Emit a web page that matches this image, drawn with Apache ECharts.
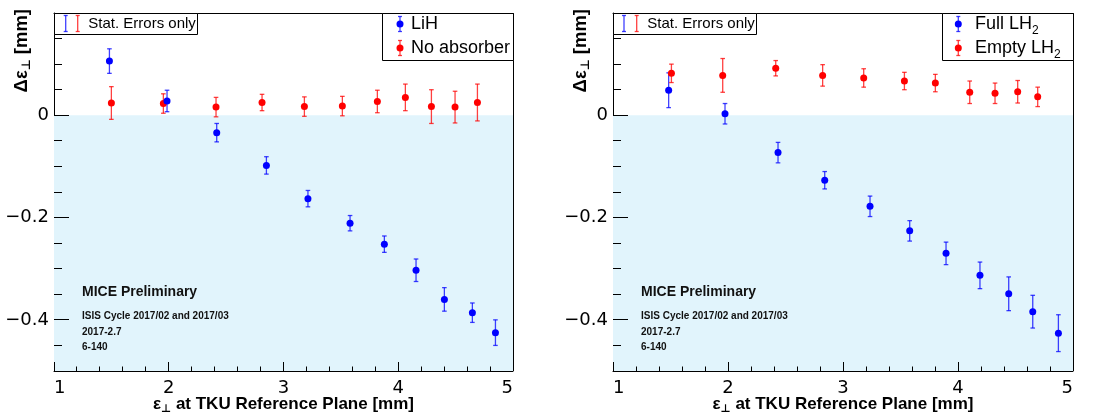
<!DOCTYPE html>
<html><head><meta charset="utf-8">
<script src="https://cdn.jsdelivr.net/npm/echarts@6/dist/echarts.min.js"></script>
<style>html,body{margin:0;padding:0;background:#fff}#c{width:1119px;height:418px}</style>
</head><body><div id="c"></div>
<script>
// ---- axis ticks ----
const xMin = 1, xMax = 5;
const yMin = -0.5, yMax = 0.2;
const xMajorTicks = [1, 2, 3, 4, 5];
const xMinorTicks = [1.2, 1.4, 1.6, 1.8, 2.2, 2.4, 2.6, 2.8, 3.2, 3.4, 3.6, 3.8, 4.2, 4.4, 4.6, 4.8];
const yLabelTicks = [0, -0.2, -0.4];
const yMinorTicks = [0.15, 0.1, 0.05, -0.05, -0.1, -0.15, -0.25, -0.3, -0.35, -0.45];
const shadeRange = [-0.5, 0];

// ---- left panel: LiH vs No absorber ----
const lihX   = [1.483, 1.985, 2.418, 2.851, 3.213, 3.580, 3.879, 4.155, 4.402, 4.646, 4.847];
const lihY   = [0.106, 0.028, -0.034, -0.098, -0.163, -0.211, -0.252, -0.303, -0.360, -0.386, -0.425];
const lihErr = [0.024, 0.021, 0.018, 0.017, 0.016, 0.015, 0.016, 0.022, 0.023, 0.019, 0.025];

const noAbsX   = [1.500, 1.953, 2.412, 2.813, 3.182, 3.513, 3.818, 4.062, 4.289, 4.495, 4.690];
const noAbsY   = [0.024, 0.023, 0.016, 0.025, 0.017, 0.018, 0.027, 0.035, 0.017, 0.016, 0.025];
const noAbsErr = [0.032, 0.019, 0.019, 0.016, 0.019, 0.019, 0.022, 0.026, 0.033, 0.031, 0.036];

// ---- right panel: Full LH2 vs Empty LH2 ----
const fullX   = [1.484, 1.974, 2.435, 2.841, 3.235, 3.580, 3.896, 4.191, 4.441, 4.650, 4.873];
const fullY   = [0.049, 0.003, -0.073, -0.127, -0.178, -0.226, -0.270, -0.313, -0.349, -0.384, -0.426];
const fullErr = [0.034, 0.020, 0.020, 0.017, 0.020, 0.020, 0.022, 0.026, 0.033, 0.032, 0.036];

const emptyX   = [1.508, 1.954, 2.415, 2.823, 3.180, 3.534, 3.803, 4.102, 4.322, 4.519, 4.693];
const emptyY   = [0.082, 0.078, 0.092, 0.078, 0.073, 0.067, 0.063, 0.045, 0.043, 0.046, 0.036];
const emptyErr = [0.018, 0.033, 0.015, 0.021, 0.018, 0.017, 0.017, 0.022, 0.020, 0.022, 0.019];

// ---- texts ----
const leftLegend  = ['LiH', 'No absorber'];
const rightLegend = ['Full LH{s|2}', 'Empty LH{s|2}'];
const statText = 'Stat. Errors only';
const miceTexts = ['MICE Preliminary', 'ISIS Cycle 2017/02 and 2017/03', '2017-2.7', '6-140'];
const yTitle = '{a|Δε}{s|⊥}{a| [mm]}';
const xTitle = '{a|ε}{s|⊥}{a| at TKU Reference Plane [mm]}';

const BLUE = '#0000ff', RED = '#ff0000';
const BLUE_E = 'rgba(0,0,255,0.75)', RED_E = 'rgba(255,0,0,0.75)';
const SHADE = '#e1f4fc';

const chart = echarts.init(document.getElementById('c'));

function zip(xs, ys, es) { return xs.map((x, i) => es ? [x, ys[i], es[i]] : [x, ys[i]]); }

function errSeries(xi, yi, xs, ys, es, col) {
  return {
    type: 'custom', xAxisIndex: xi, yAxisIndex: yi, z: 3,
    data: zip(xs, ys, es),
    renderItem: function (params, api) {
      const x = api.value(0), y = api.value(1), e = api.value(2);
      const t = api.coord([x, y + e]), b = api.coord([x, y - e]);
      const cw = 2.3;
      const st = {stroke: col, lineWidth: 1.3};
      return {type: 'group', children: [
        {type: 'line', shape: {x1: t[0], y1: t[1], x2: b[0], y2: b[1]}, style: st},
        {type: 'line', shape: {x1: t[0] - cw, y1: t[1], x2: t[0] + cw, y2: t[1]}, style: st},
        {type: 'line', shape: {x1: b[0] - cw, y1: b[1], x2: b[0] + cw, y2: b[1]}, style: st}
      ]};
    }
  };
}
function ptSeries(xi, yi, xs, ys, col, z) {
  return {type: 'scatter', xAxisIndex: xi, yAxisIndex: yi, z: z || 4,
    data: zip(xs, ys), symbol: 'circle', symbolSize: 7,
    itemStyle: {color: col, opacity: 1}};
}
function shadeSeries(xi, yi) {
  return {type: 'custom', xAxisIndex: xi, yAxisIndex: yi, z: 1,
    data: [[xMin, shadeRange[1], xMax, shadeRange[0]]],
    renderItem: function (params, api) {
      const p0 = api.coord([api.value(0), api.value(1)]);
      const p1 = api.coord([api.value(2), api.value(3)]);
      return {type: 'rect', shape: {x: p0[0], y: p0[1], width: p1[0] - p0[0], height: p1[1] - p0[1]},
        style: {fill: SHADE}};
    }};
}
// frame edge + tick marks through the axis scales: [x, y, length px, dir]
// dir 0: tick up from bottom axis; 1: tick right from left axis; 2: right frame edge
function tickSeries(xi, yi) {
  const data = [];
  xMajorTicks.forEach(v => data.push([v, yMin, 9, 0]));
  xMinorTicks.forEach(v => data.push([v, yMin, 4.5, 0]));
  yLabelTicks.forEach(v => data.push([xMin, v, 15, 1]));
  yMinorTicks.forEach(v => data.push([xMin, v, 8, 1]));
  data.push([xMax, yMin, 0, 2]);
  return {type: 'custom', xAxisIndex: xi, yAxisIndex: yi, z: 6, clip: false,
    data: data,
    renderItem: function (params, api) {
      const x = api.value(0), y = api.value(1), len = api.value(2), dir = api.value(3);
      const p = api.coord([x, y]);
      let shape;
      if (dir === 0) {
        const px = Math.round(p[0] - 0.5) + 0.5;
        shape = {x1: px, y1: p[1], x2: px, y2: p[1] - len};
      } else if (dir === 1) {
        const py = Math.round(p[1] - 0.5) + 0.5;
        shape = {x1: p[0], y1: py, x2: p[0] + len, y2: py};
      } else {
        const top = api.coord([xMax, yMax]);
        const px = Math.round(p[0] - 0.5) + 0.5;
        shape = {x1: px, y1: p[1], x2: px, y2: top[1]};
      }
      return {type: 'line', shape: shape, style: {stroke: '#000', lineWidth: 1}};
    }};
}

const fmtY = v => (Math.abs(v) < 1e-9 ? '0' : (v < 0 ? '\u2212' : '') + Math.abs(v).toFixed(1));

const grids = [
  {left: 54, top: 13, width: 459, height: 358},
  {left: 613, top: 13, width: 460, height: 358}
];

const LINE = {show: true, onZero: false, lineStyle: {color: '#000', width: 1}};
const xAxes = [], yAxes = [];
grids.forEach((g, gi) => {
  xAxes.push({gridIndex: gi, type: 'value', min: xMin, max: xMax, interval: 1, position: 'bottom',
    axisLine: LINE, axisTick: {show: false}, splitLine: {show: false},
    axisLabel: {fontFamily: 'DejaVu Sans', fontSize: 18, color: '#000', margin: 8,
      showMinLabel: true, showMaxLabel: true, alignMinLabel: 'left', alignMaxLabel: 'right'}});
  xAxes.push({gridIndex: gi, type: 'value', min: xMin, max: xMax, position: 'top',
    axisLine: LINE, axisTick: {show: false}, axisLabel: {show: false}, splitLine: {show: false}});
  yAxes.push({gridIndex: gi, type: 'value', min: yMin, max: yMax, position: 'left',
    axisLine: LINE, axisTick: {show: false}, splitLine: {show: false},
    axisLabel: {customValues: yLabelTicks, formatter: fmtY, fontFamily: 'DejaVu Sans', fontSize: 18,
      color: '#000', margin: 5}});
});

const series = [
  shadeSeries(0, 0),
  tickSeries(0, 0),
  errSeries(0, 0, noAbsX, noAbsY, noAbsErr, RED_E),
  ptSeries(0, 0, noAbsX, noAbsY, RED, 4),
  errSeries(0, 0, lihX, lihY, lihErr, BLUE_E),
  ptSeries(0, 0, lihX, lihY, BLUE, 5),
  shadeSeries(2, 1),
  tickSeries(2, 1),
  errSeries(2, 1, fullX, fullY, fullErr, BLUE_E),
  ptSeries(2, 1, fullX, fullY, BLUE, 4),
  errSeries(2, 1, emptyX, emptyY, emptyErr, RED_E),
  ptSeries(2, 1, emptyX, emptyY, RED, 5)
];

// ---- decorations (legends, titles, annotations) ----
const FONT = 'Liberation Sans';
function errGlyph(x, yc, half, col) {
  const st = {stroke: col, lineWidth: 1.3};
  return [
    {type: 'line', z: 20, shape: {x1: x, y1: yc - half, x2: x, y2: yc + half}, style: st},
    {type: 'line', z: 20, shape: {x1: x - 2, y1: yc - half, x2: x + 2, y2: yc - half}, style: st},
    {type: 'line', z: 20, shape: {x1: x - 2, y1: yc + half, x2: x + 2, y2: yc + half}, style: st}
  ];
}
const panelDeco = [
  {L: 54, R: 513, legend: leftLegend, mk: 400, tx: 411, stat: [65.7, 77.7, 88.3], mice: 82},
  {L: 613, R: 1073, legend: rightLegend, mk: 958.3, tx: 975, stat: [624, 636.7, 647.3], mice: 641}
];
const graphic = [];
panelDeco.forEach(p => {
  graphic.push({type: 'rect', z: 19, shape: {x: p.L + 0.5, y: 13.5, width: 143, height: 21},
    style: {fill: '#fff', stroke: '#000', lineWidth: 1}});
  graphic.push(...errGlyph(p.stat[0], 23.5, 8, BLUE_E));
  graphic.push(...errGlyph(p.stat[1], 23.5, 8, RED_E));
  graphic.push({type: 'text', z: 20, x: p.stat[2], y: 24,
    style: {text: statText, font: '15px "' + FONT + '"', fill: '#000', verticalAlign: 'middle', align: 'left'}});
  graphic.push({type: 'rect', z: 19, shape: {x: p.R - 131 + 0.5, y: 13.5, width: 131, height: 47},
    style: {fill: '#fff', stroke: '#000', lineWidth: 1}});
  [BLUE, RED].forEach((c, i) => {
    const yc = 24 + i * 24;
    graphic.push(...errGlyph(p.mk, yc, 7.5, i === 0 ? BLUE_E : RED_E));
    graphic.push({type: 'circle', z: 21, shape: {cx: p.mk, cy: yc, r: 3.5}, style: {fill: c}});
    graphic.push({type: 'text', z: 20, x: p.tx, y: yc,
      style: {text: p.legend[i], fill: '#000', verticalAlign: 'middle', align: 'left',
        fontFamily: FONT, fontSize: 18,
        rich: {s: {fontFamily: FONT, fontSize: 12, padding: [14, 0, 0, 0]}}}});
  });
  const ys = [292, 316.7, 332.3, 347.7];
  miceTexts.forEach((t, i) => {
    graphic.push({type: 'text', z: 20, x: p.mice, y: ys[i],
      style: {text: t, fill: '#111', verticalAlign: 'middle', align: 'left',
        font: 'bold ' + (i === 0 ? 14 : 10) + 'px "' + FONT + '"'}});
  });
  graphic.push({type: 'text', z: 20, x: p.L - 32, y: 9, rotation: Math.PI / 2,
    style: {text: yTitle, fill: '#000', align: 'right', verticalAlign: 'middle',
      rich: {a: {fontFamily: FONT, fontWeight: 'bold', fontSize: 18.5},
             s: {fontFamily: 'DejaVu Sans', fontWeight: 'bold', fontSize: 12, padding: [10, 0, 0, 0]}}}});
  graphic.push({type: 'text', z: 20, x: (p.L + p.R) / 2, y: 404,
    style: {text: xTitle, fill: '#000', align: 'center', verticalAlign: 'middle',
      rich: {a: {fontFamily: FONT, fontWeight: 'bold', fontSize: 17},
             s: {fontFamily: 'DejaVu Sans', fontWeight: 'bold', fontSize: 11, padding: [10, 0, 0, 0]}}}});
});

chart.setOption({
  animation: false,
  backgroundColor: '#fff',
  grid: grids,
  xAxis: xAxes,
  yAxis: yAxes,
  series: series,
  graphic: graphic
});
</script></body></html>
